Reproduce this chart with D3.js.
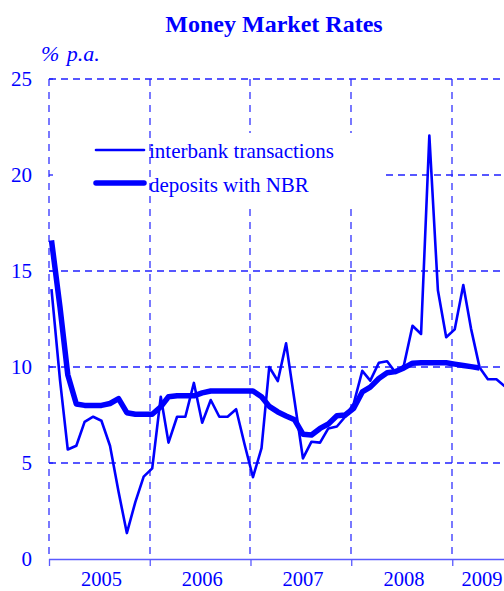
<!DOCTYPE html>
<html>
<head>
<meta charset="utf-8">
<script src="https://cdn.jsdelivr.net/npm/d3@7"></script>
<style>
  body { margin: 0; background: #fff; }
  svg { display: block; }
  text { font-family: "Liberation Serif", "Times New Roman", serif; fill: #0000ff; }
</style>
</head>
<body>
<svg></svg>
<script>
// monthly rates, Jan 2005 onwards (% p.a.)
let interbank = [14.06, 9.3, 5.7, 5.9, 7.14, 7.41, 7.2, 5.9, 3.5, 1.35, 2.98, 4.29,
                 4.72, 8.45, 6.06, 7.41, 7.41, 9.17, 7.1, 8.28, 7.41, 7.41, 7.8, 6.0,
                 4.26, 5.77, 10.0, 9.27, 11.23, 8.2, 5.24, 6.11, 6.06, 6.8, 6.9, 7.41,
                 8.1, 9.8, 9.29, 10.22, 10.3, 9.7, 10.1, 12.15, 11.72, 22.05, 14.0, 11.55,
                 11.96, 14.27, 12.0, 9.98, 9.36, 9.36, 9.0]
let deposits = [16.6, 13.1, 9.6, 8.07, 8.0, 8.0, 8.0, 8.1, 8.35, 7.62, 7.54, 7.54,
                7.54, 7.93, 8.45, 8.5, 8.5, 8.5, 8.65, 8.75, 8.75, 8.75, 8.75, 8.75,
                8.75, 8.45, 7.95, 7.66, 7.45, 7.25, 6.5, 6.46, 6.8, 7.03, 7.46, 7.5,
                7.85, 8.7, 8.95, 9.4, 9.7, 9.76, 9.95, 10.2, 10.22, 10.22, 10.22, 10.22,
                10.15, 10.08, 10.02, 9.95]
let years = ['2005', '2006', '2007', '2008', '2009']
let yTicks = [0, 5, 10, 15, 20, 25]
let seriesNames = ['interbank transactions', 'deposits with NBR']

let width = 504
let height = 591
let blue = '#0000ff'
let gridBlue = '#2020ff'

let svg = d3.select('svg')
    .attr('width', width)
    .attr('height', height)

// one point per month, plotted around the 10th
let monthDate = (i) => new Date(2005, i, 10)

let xScale = d3.scaleTime()
    .domain([new Date(2005, 0, 1), new Date(2010, 0, 1)])
    .range([49, 553])
let yScale = d3.scaleLinear()
    .domain([0, 25])
    .range([559, 79])

let yearStarts = years.map(y => new Date(+y, 0, 1))
let legendRight = 386

// horizontal gridlines (the 20 line is cut by the legend)
svg.append('g')
    .selectAll('line')
    .data(yTicks.filter(v => v > 0))
    .enter()
    .append('line')
    .attr('x1', v => v === 20 ? legendRight : xScale(yearStarts[0]))
    .attr('x2', width)
    .attr('y1', v => yScale(v))
    .attr('y2', v => yScale(v))
    .style('stroke', gridBlue)
    .style('stroke-width', 1.3)
    .style('stroke-dasharray', '7,5')

// vertical gridlines at year boundaries
svg.append('g')
    .selectAll('line')
    .data(yearStarts)
    .enter()
    .append('line')
    .attr('x1', d => Math.round(xScale(d)))
    .attr('x2', d => Math.round(xScale(d)))
    .attr('y1', yScale(25))
    .attr('y2', yScale(0))
    .style('stroke', gridBlue)
    .style('stroke-width', 1.2)
    .style('stroke-dasharray', '7,6')

// legend background hides gridlines behind the text
svg.append('rect')
    .attr('x', 152)
    .attr('y', 133)
    .attr('width', legendRight - 152)
    .attr('height', 71)
    .attr('fill', '#fff')

// x axis: solid line with ticks below, year labels centred in each year
let xAxis = d3.axisBottom(xScale)
    .tickValues(yearStarts)
    .tickSize(7)
    .tickFormat('')
let xg = svg.append('g')
    .attr('transform', 'translate(0,' + yScale(0) + ')')
    .call(xAxis)
xg.select('.domain').attr('d', 'M49,0.5H' + width).attr('stroke', '#5a5aff').attr('stroke-width', 1.6)
xg.selectAll('.tick line').attr('stroke', '#5a5aff').attr('stroke-width', 1.3)

svg.append('g')
    .selectAll('text')
    .data(years)
    .enter()
    .append('text')
    .attr('x', (y, i) => {
        let mid = i === years.length - 1 ? new Date(+y, 3, 10) : new Date(+y, 6, 1)
        return xScale(mid) + 2.5
    })
    .attr('y', 586)
    .attr('text-anchor', 'middle')
    .style('font-size', '20.5px')
    .text(y => y)

// y axis labels and small inner ticks
svg.append('g')
    .selectAll('text')
    .data(yTicks)
    .enter()
    .append('text')
    .attr('x', 32)
    .attr('y', v => yScale(v) + 7)
    .attr('text-anchor', 'end')
    .style('font-size', '21px')
    .text(v => v)

svg.append('g')
    .selectAll('line')
    .data(yTicks.filter(v => v > 0))
    .enter()
    .append('line')
    .attr('x1', 49)
    .attr('x2', 53)
    .attr('y1', v => yScale(v))
    .attr('y2', v => yScale(v))
    .style('stroke', gridBlue)
    .style('stroke-width', 1.3)

// series
let line = d3.line()
    .x((v, i) => xScale(monthDate(i)))
    .y(v => yScale(v))

svg.append('path')
    .datum(deposits)
    .attr('d', line)
    .attr('fill', 'none')
    .attr('stroke', blue)
    .attr('stroke-width', 5.5)
    .attr('stroke-linejoin', 'round')

svg.append('path')
    .datum(interbank)
    .attr('d', line)
    .attr('fill', 'none')
    .attr('stroke', blue)
    .attr('stroke-width', 2.6)
    .attr('stroke-linejoin', 'round')

// legend
let legend = svg.append('g')
legend.selectAll('line')
    .data(seriesNames)
    .enter()
    .append('line')
    .attr('x1', 96)
    .attr('x2', 144)
    .attr('y1', (d, i) => 150 + i * 33)
    .attr('y2', (d, i) => 150 + i * 33)
    .attr('stroke', blue)
    .attr('stroke-width', (d, i) => i === 0 ? 2.6 : 5.5)
    .attr('stroke-linecap', 'round')
legend.selectAll('text')
    .data(seriesNames)
    .enter()
    .append('text')
    .attr('x', 149)
    .attr('y', (d, i) => 158 + i * 34)
    .style('font-size', '21px')
    .text(d => d)

// title and unit
svg.append('text')
    .attr('x', 274)
    .attr('y', 32)
    .attr('text-anchor', 'middle')
    .style('font-size', '24px')
    .style('font-weight', 'bold')
    .text('Money Market Rates')

svg.append('text')
    .attr('x', 41)
    .attr('y', 61)
    .style('font-size', '22px')
    .style('font-style', 'italic')
    .style('word-spacing', '2px')
    .text('% p.a.')
</script>
</body>
</html>
